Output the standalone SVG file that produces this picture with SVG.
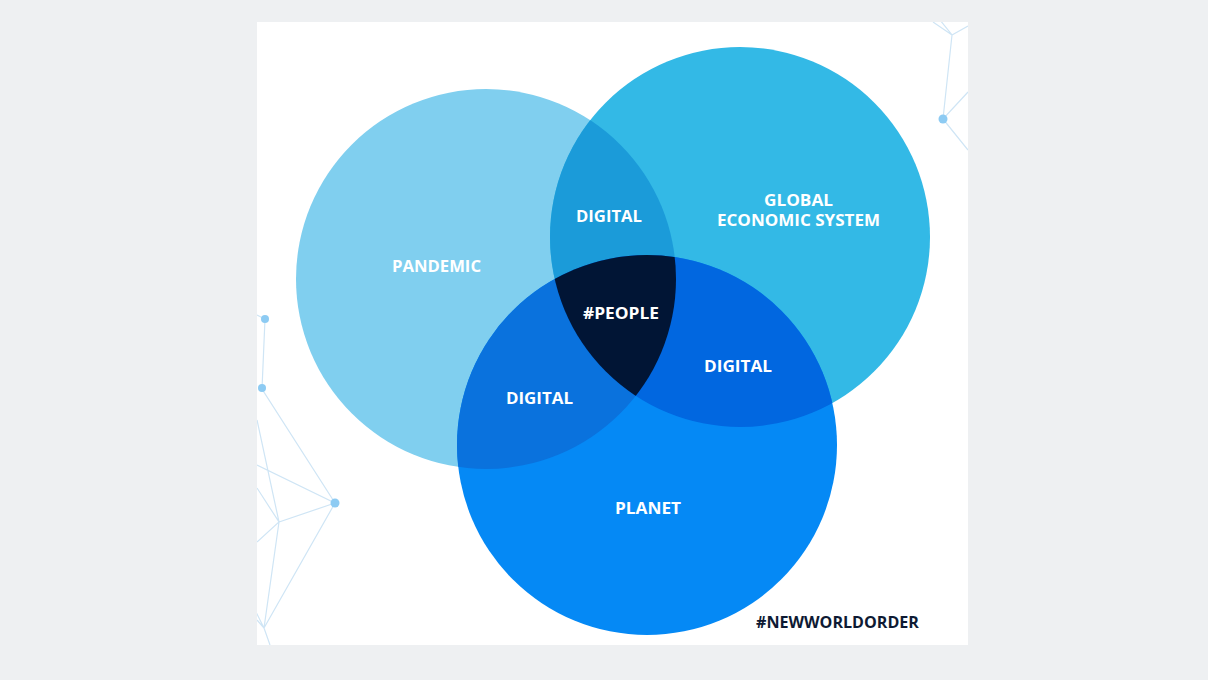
<svg xmlns="http://www.w3.org/2000/svg" width="1208" height="680" viewBox="0 0 1208 680">
<style>
.lbl{font-family:"Open Sans","Liberation Sans",sans-serif;font-weight:700;font-size:16px;fill:#ffffff;text-anchor:middle}
.tag{font-family:"Open Sans","Liberation Sans",sans-serif;font-weight:700;font-size:16px;fill:#0e1a33;text-anchor:middle}
.net{stroke:#cfe5f5;stroke-width:1.2;fill:none}
.dot{fill:#8dcbf3}
</style>
<defs>
<clipPath id="clipP"><circle cx="486" cy="279" r="190"/></clipPath>
<clipPath id="clipG"><circle cx="740" cy="237" r="190"/></clipPath>
<clipPath id="panel"><rect x="257" y="22" width="711" height="623"/></clipPath>
</defs>
<rect x="0" y="0" width="1208" height="680" fill="#eef0f2"/>
<rect x="257" y="22" width="711" height="623" fill="#ffffff"/>
<g id="decor" clip-path="url(#panel)">
<path class="net" d="M257 315 L265 319 L262 389 L335 503 L257 465 M257 420 L279 522 L335 503 M257 488 L279 522 L257 542 M279 522 L264 628 L335 503 M264 628 L257 620 M264 628 L270 645 M250 600 L264 628"/>
<circle class="dot" cx="265" cy="319" r="4"/>
<circle class="dot" cx="262" cy="388" r="4"/>
<circle class="dot" cx="335" cy="503" r="4.5"/>
<path class="net" d="M940 20 L952 35 L943 119 L968 92 M943 119 L968 150 M952 35 L968 26 M933 22 L952 35"/>
<circle class="dot" cx="943" cy="119" r="4.5"/>
</g>
<g id="pandemic">
<circle cx="486" cy="279" r="190" fill="#80cfef"/>
<text class="lbl" x="436.5" y="272" textLength="89" lengthAdjust="spacingAndGlyphs">PANDEMIC</text>
</g>
<g id="global-economic-system">
<circle cx="740" cy="237" r="190" fill="#33b9e6"/>
<text class="lbl" x="798.5" y="206" textLength="69" lengthAdjust="spacingAndGlyphs">GLOBAL</text>
<text class="lbl" x="798.5" y="226" textLength="163" lengthAdjust="spacingAndGlyphs">ECONOMIC SYSTEM</text>
</g>
<g id="planet">
<circle cx="647" cy="445" r="190" fill="#0589f5"/>
<text class="lbl" x="648" y="514" textLength="66" lengthAdjust="spacingAndGlyphs">PLANET</text>
</g>
<g id="digital-pandemic-global">
<g clip-path="url(#clipP)"><circle cx="740" cy="237" r="190" fill="#1b9bd9"/></g>
<text class="lbl" x="609" y="222" textLength="66" lengthAdjust="spacingAndGlyphs">DIGITAL</text>
</g>
<g id="digital-pandemic-planet">
<g clip-path="url(#clipP)"><circle cx="647" cy="445" r="190" fill="#0a72dd"/></g>
<text class="lbl" x="539.5" y="404" textLength="67" lengthAdjust="spacingAndGlyphs">DIGITAL</text>
</g>
<g id="digital-global-planet">
<g clip-path="url(#clipG)"><circle cx="647" cy="445" r="190" fill="#0167e0"/></g>
<text class="lbl" x="738" y="372" textLength="68" lengthAdjust="spacingAndGlyphs">DIGITAL</text>
</g>
<g id="people">
<g clip-path="url(#clipP)"><g clip-path="url(#clipG)"><circle cx="647" cy="445" r="190" fill="#011535"/></g></g>
<text class="lbl" x="621" y="319" textLength="76" lengthAdjust="spacingAndGlyphs">#PEOPLE</text>
</g>
<g id="hashtag">
<text class="tag" x="837.5" y="628" textLength="163" lengthAdjust="spacingAndGlyphs">#NEWWORLDORDER</text>
</g>
</svg>
